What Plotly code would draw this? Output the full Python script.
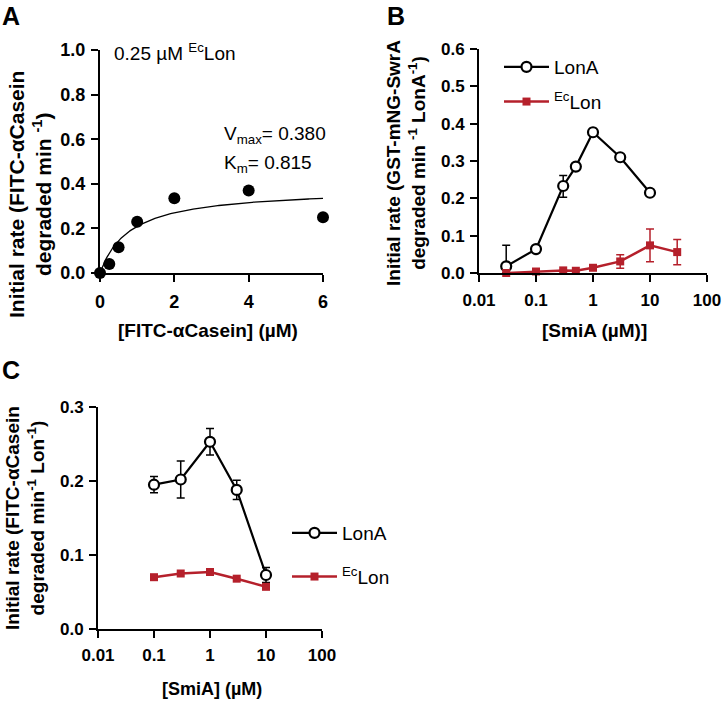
import numpy as np
import plotly.graph_objects as go

# ---------------- Data ----------------
# Panel A: Michaelis-Menten of EcLon on FITC-aCasein
a_substrate = [0, 0.25, 0.5, 1, 2, 4, 6]
a_rate = [0.0, 0.04, 0.115, 0.23, 0.335, 0.37, 0.25]
a_vmax = 0.380
a_km = 0.815

# Panel B: GST-mNG-SwrA degradation vs SmiA
b_lona_x = [0.03, 0.1, 0.3, 0.5, 1, 3, 10]
b_lona_y = [0.018, 0.064, 0.233, 0.285, 0.377, 0.31, 0.215]
b_lona_err_plus = [0.056, 0.0, 0.028, 0.0, 0.01, 0.0, 0.0]
b_lona_err_minus = [0.018, 0.0, 0.03, 0.0, 0.01, 0.0, 0.0]
b_ec_x = [0.03, 0.1, 0.3, 0.5, 1, 3, 10, 30]
b_ec_y = [0.0, 0.004, 0.007, 0.006, 0.014, 0.031, 0.074, 0.056]
b_ec_err = [0.0, 0.0, 0.0, 0.0, 0.0, 0.018, 0.044, 0.034]

# Panel C: FITC-aCasein degradation vs SmiA
c_x = [0.1, 0.3, 1, 3, 10]
c_lona_y = [0.195, 0.202, 0.253, 0.188, 0.073]
c_lona_err = [0.011, 0.025, 0.018, 0.013, 0.01]
c_ec_y = [0.070, 0.075, 0.077, 0.068, 0.057]

log_ticks = [0.01, 0.1, 1, 10, 100]
log_tick_text = ["0.01", "0.1", "1", "10", "100"]

RED = "#B5202B"
FONT = "Liberation Sans, Arial, sans-serif"

W, H = 722, 702
def px(x): return x / W
def py(y): return 1 - y / H

fig = go.Figure()

# Panel A fit curve (from the fitted Vmax / Km)
xfit = np.linspace(0, 6, 200)
yfit = a_vmax * xfit / (a_km + xfit)
fig.add_trace(go.Scatter(x=xfit, y=yfit, mode="lines", line=dict(color="black", width=1.3),
                         xaxis="x", yaxis="y", showlegend=False, hoverinfo="skip"))
fig.add_trace(go.Scatter(x=a_substrate, y=a_rate, mode="markers",
                         marker=dict(color="black", size=12), cliponaxis=False,
                         xaxis="x", yaxis="y", showlegend=False))

# Panel B
fig.add_trace(go.Scatter(x=b_lona_x, y=b_lona_y, mode="lines+markers", name="LonA",
                         line=dict(color="black", width=2.2),
                         marker=dict(symbol="circle", size=10, color="white",
                                     line=dict(color="black", width=2.2)),
                         error_y=dict(type="data", symmetric=False, array=b_lona_err_plus,
                                      arrayminus=b_lona_err_minus, color="black",
                                      thickness=1.5, width=4),
                         cliponaxis=False, xaxis="x2", yaxis="y2", legend="legend",
                         legendgroup="b1"))
fig.add_trace(go.Scatter(x=b_ec_x, y=b_ec_y, mode="lines+markers", name="<sup>Ec</sup>Lon",
                         line=dict(color=RED, width=2.5),
                         marker=dict(symbol="square", size=8, color=RED),
                         error_y=dict(type="data", array=b_ec_err, color=RED,
                                      thickness=1.5, width=4),
                         cliponaxis=False, xaxis="x2", yaxis="y2", legend="legend",
                         legendgroup="b2"))

# Panel C
fig.add_trace(go.Scatter(x=c_x, y=c_lona_y, mode="lines+markers", name="LonA",
                         line=dict(color="black", width=2.2),
                         marker=dict(symbol="circle", size=10, color="white",
                                     line=dict(color="black", width=2.2)),
                         error_y=dict(type="data", array=c_lona_err, color="black",
                                      thickness=1.5, width=4),
                         cliponaxis=False, xaxis="x3", yaxis="y3", legend="legend2",
                         legendgroup="c1"))
fig.add_trace(go.Scatter(x=c_x, y=c_ec_y, mode="lines+markers", name="<sup>Ec</sup>Lon",
                         line=dict(color=RED, width=2.5),
                         marker=dict(symbol="square", size=8, color=RED),
                         cliponaxis=False, xaxis="x3", yaxis="y3", legend="legend2",
                         legendgroup="c2"))

axis_common = dict(showline=True, linecolor="black", linewidth=2, ticks="outside",
                   ticklen=7, tickwidth=2, tickcolor="black", showgrid=False,
                   zeroline=False, mirror=False, automargin=False,
                   tickfont=dict(family=FONT, size=17, color="black", weight="bold"))

fig.update_layout(
    width=W, height=H, margin=dict(l=0, r=0, t=0, b=0, autoexpand=False),
    paper_bgcolor="white", plot_bgcolor="white",
    xaxis=dict(domain=[px(100), px(323)], range=[0, 6], tickvals=[0, 2, 4, 6],
               anchor="y", ticklabelstandoff=4, **axis_common),
    yaxis=dict(domain=[py(273), py(50)], range=[0, 1], dtick=0.2, tickformat=".1f",
               anchor="x", ticklabelstandoff=2, **axis_common),
    xaxis2=dict(domain=[px(479), px(707)], type="log", range=[-2, 2], tickvals=log_ticks,
                ticktext=log_tick_text, anchor="y2", ticklabelstandoff=4, **axis_common),
    yaxis2=dict(domain=[py(273), py(49)], range=[0, 0.6], dtick=0.1, tickformat=".1f",
                anchor="x2", ticklabelstandoff=2, **axis_common),
    xaxis3=dict(domain=[px(98), px(322)], type="log", range=[-2, 2], tickvals=log_ticks,
                ticktext=log_tick_text, anchor="y3", ticklabelstandoff=3, **axis_common),
    yaxis3=dict(domain=[py(629), py(407)], range=[0, 0.3], dtick=0.1, tickformat=".1f",
                anchor="x3", ticklabelstandoff=2, **axis_common),
    legend=dict(x=px(499), y=py(48), xanchor="left", yanchor="top",
                font=dict(family=FONT, size=19, color="black"),
                bgcolor="rgba(0,0,0,0)", itemwidth=45, tracegroupgap=7),
    legend2=dict(x=px(287), y=py(514), xanchor="left", yanchor="top",
                 font=dict(family=FONT, size=19, color="black"),
                 bgcolor="rgba(0,0,0,0)", itemwidth=45, tracegroupgap=16),
    showlegend=True,
)
for ax in ["xaxis", "yaxis"]:
    fig.layout[ax].tickfont.size = 18

ann = []
def add(text, x, y, font, angle=0, xanchor="center", yanchor="middle"):
    ann.append(dict(text=text, x=px(x), y=py(y), xref="paper", yref="paper",
                    showarrow=False, font=font, textangle=angle,
                    xanchor=xanchor, yanchor=yanchor))

def bold(size):
    return dict(family=FONT, size=size, color="black", weight="bold")

letter_font = bold(25)
add("A", 11, 16, letter_font)
add("B", 396, 16, letter_font)
add("C", 11, 370, letter_font)

# y-axis titles
add("Initial rate (FITC-αCasein<br>degraded min <sup>-1</sup>)", 30, 195, bold(21), angle=-90)
add("Initial rate (GST-mNG-SwrA<br>degraded min <sup>-1</sup> LonA<sup>-1</sup>)", 406, 163, bold(19), angle=-90)
add("Initial rate (FITC-αCasein<br>degraded min<sup>-1</sup> Lon<sup>-1</sup>)", 25, 518, bold(19), angle=-90)

# x-axis titles
add("[FITC-αCasein] (µM)", 208, 330, bold(19))
add("[SmiA (µM)]", 594, 330, bold(19))
add("[SmiA] (µM)", 212, 689, bold(18))

text_font = dict(family=FONT, size=19, color="black")
add("0.25 µM <sup>Ec</sup>Lon", 112, 52, text_font, xanchor="left")
add("V<sub>max</sub>= 0.380", 222, 135, text_font, xanchor="left")
add("K<sub>m</sub>= 0.815", 222, 164, text_font, xanchor="left")

fig.update_layout(annotations=ann)
fig.write_html("out.html", config={"displayModeBar": False},
               post_script="document.body.style.margin='0';document.body.style.overflow='hidden';")
